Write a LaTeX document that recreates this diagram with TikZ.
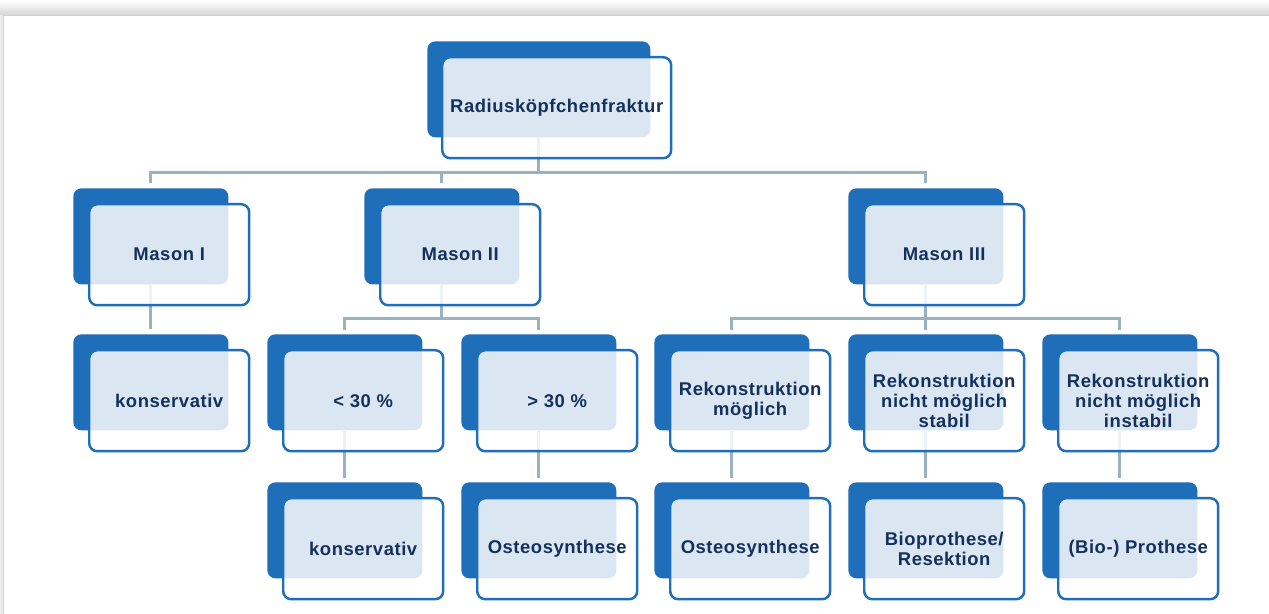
\documentclass[tikz,border=0pt]{standalone}
\usepackage{fontspec}
\setmainfont[LetterSpace=3]{Liberation Sans}
\usetikzlibrary{calc,backgrounds}

\definecolor{boxblue}{RGB}{31,110,186}
\definecolor{textblue}{RGB}{22,48,92}
\definecolor{linegray}{RGB}{152,178,194}

\begin{document}
\begin{tikzpicture}[x=0.02cm,y=-0.02cm,
  back/.style={rectangle,rounded corners=0.16cm,fill=boxblue,inner sep=0pt,
    minimum width=3.1cm,minimum height=1.92cm,anchor=north west},
  front/.style={rectangle,rounded corners=0.16cm,draw=boxblue,line width=1.4pt,
    fill=white,fill opacity=0.84,text opacity=1,text=textblue,inner sep=0pt,
    minimum width=3.2cm,minimum height=2.02cm,anchor=north west,align=center,
    font=\bfseries\fontsize{10.5}{11.5}\selectfont},
  conn/.style={linegray,line width=1.7pt}]
  \useasboundingbox (0,0) rectangle (1269,614);

  % boxes: dark block behind, light card in front
  \node[back,minimum width=4.46cm] (top-b) at (427,41) {};
  \node[front,minimum width=4.58cm] (top) at ([shift={(14,15)}]top-b.north west) {Radiusköpfchenfraktur};
  \foreach \n/\x/\y/\t in {m1/73/188/{Mason I}, m2/364/188/{Mason II}, m3/848/188/{Mason III},
      k1/73/334/{konservativ}, lt/267/334/{< 30 \%}, gt/461/334/{> 30 \%},
      rm/654/334/{Rekonstruktion\\möglich},
      rs/848/334/{Rekonstruktion\\nicht möglich\\stabil},
      ri/1042/334/{Rekonstruktion\\nicht möglich\\instabil},
      k2/267/482/{konservativ}, os1/461/482/{Osteosynthese},
      os2/654/482/{Osteosynthese}, bp/848/482/{Bioprothese/\\Resektion},
      pr/1042/482/{(Bio-) Prothese}}{
    \node[back] (\n-b) at (\x,\y) {};
    \node[front] (\n) at ([shift={(15,15)}]\n-b.north west) {\t};
  }

  \begin{pgfonlayer}{background}
    % page
    \fill[black!8] (0,0) rectangle (1269,614);
    \shade[top color=white,bottom color=black!16] (0,0) rectangle (1269,15);
    \fill[white] (3,15) rectangle (1269,614);
    \draw[black!18] (3,614) -- (3,15) -- (1269,15);

    % connectors
    \coordinate (bus0) at ($(top-b.south)+(0,35)$);
    \coordinate (bus2) at ($(m2-b.south)+(0,34)$);
    \coordinate (bus3) at ($(m3-b.south)+(0,34)$);
    \draw[conn] (top-b.south) -- (bus0);
    \foreach \n in {m1,m2,m3}
      \draw[conn,shorten <=1mm] (\n-b.north) |- (bus0);
    \draw[conn,shorten >=0.9mm] (m1-b.south) -- (k1-b.north);
    \draw[conn] (m2-b.south) -- (bus2);
    \foreach \n in {lt,gt}
      \draw[conn,shorten <=0.8mm] (\n-b.north) |- (bus2);
    \draw[conn] (m3-b.south) -- (bus3);
    \foreach \n in {rm,rs,ri}
      \draw[conn,shorten <=0.8mm] (\n-b.north) |- (bus3);
    \draw[conn,shorten >=0.8mm] (lt-b.south) -- (k2-b.north);
    \draw[conn,shorten >=0.8mm] (gt-b.south) -- (os1-b.north);
    \draw[conn,shorten >=0.8mm] (rm-b.south) -- (os2-b.north);
    \draw[conn,shorten >=0.8mm] (rs-b.south) -- (bp-b.north);
    \draw[conn,shorten >=0.8mm] (ri-b.south) -- (pr-b.north);
  \end{pgfonlayer}
\end{tikzpicture}
\end{document}
